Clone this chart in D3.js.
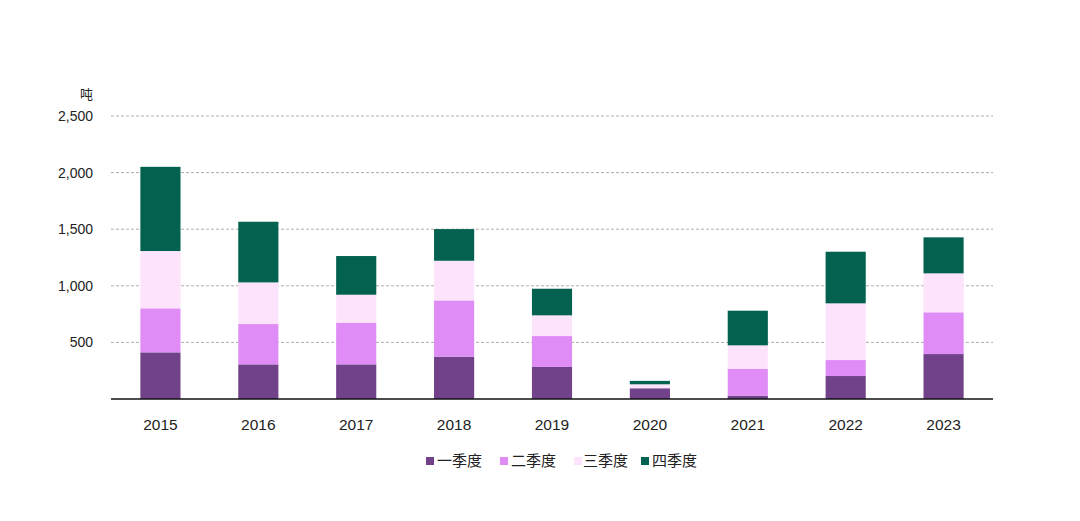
<!DOCTYPE html>
<html><head><meta charset="utf-8">
<script src="https://cdn.jsdelivr.net/npm/d3@7"></script>
<style>
body{margin:0;background:#fff;}
text{font-family:"Liberation Sans",Arial,"Noto Sans CJK SC",sans-serif;}
</style></head>
<body><svg id="c" width="1080" height="521"></svg>
<script>
const years = ["2015","2016","2017","2018","2019","2020","2021","2022","2023"];
const seriesNames = ["一季度","二季度","三季度","四季度"];
const q1 = [412,306,306,374,283,95,29,203,397];
const q2 = [389,356,368,497,273,0,239,141,369];
const q3 = [506,368,247,350,183,35,206,501,344];
const q4 = [744,536,342,280,235,30,306,456,318];
const yTicks = [500,1000,1500,2000,2500];
const unitLabel = "吨";
const colors = ["#71428a","#df8cf7","#fde4fc","#03624f"];

(function(){
const svg = d3.select("#c");
const mLeft = 111, mRight = 993, mTop = 116, mBottom = 399;
const x = d3.scaleBand().domain(years).range([mLeft,mRight]).paddingInner(0.59).paddingOuter(0.3);
const y = d3.scaleLinear().domain([0,2500]).range([mBottom,mTop]);

const rows = years.map((yr,i)=>({year:yr,"一季度":q1[i],"二季度":q2[i],"三季度":q3[i],"四季度":q4[i]}));
const stacked = d3.stack().keys(seriesNames)(rows);

svg.append("g").selectAll("line").data(yTicks).join("line")
  .attr("x1",mLeft).attr("x2",mRight)
  .attr("y1",d=>y(d)).attr("y2",d=>y(d))
  .attr("stroke","#adadad").attr("stroke-width",1).attr("stroke-dasharray","3,2");

svg.append("g").selectAll("text").data(yTicks).join("text")
  .attr("x",93).attr("y",d=>y(d)).attr("dy","0.35em")
  .attr("text-anchor","end").attr("font-size",14).attr("fill","#222")
  .text(d=>d3.format(",")(d));
svg.append("text").attr("x",93).attr("y",99).attr("text-anchor","end")
  .attr("font-size",13).attr("fill","#222").text(unitLabel);

svg.append("g").selectAll("g").data(stacked).join("g")
  .attr("fill",(d,i)=>colors[i])
  .selectAll("rect").data(d=>d).join("rect")
  .attr("x",d=>x(d.data.year)).attr("width",x.bandwidth())
  .attr("y",d=>y(d[1])).attr("height",d=>Math.max(0,y(d[0])-y(d[1])));

svg.append("line").attr("x1",mLeft).attr("x2",mRight).attr("y1",mBottom).attr("y2",mBottom)
  .attr("stroke","#111").attr("stroke-width",1.5);

svg.append("g").selectAll("text").data(years).join("text")
  .attr("x",d=>x(d)+x.bandwidth()/2).attr("y",425).attr("dy","0.35em")
  .attr("text-anchor","middle").attr("font-size",15.5).attr("fill","#222").text(d=>d);

const legX = [426,500,574,641];
const lg = svg.append("g").selectAll("g").data(seriesNames).join("g")
  .attr("transform",(d,i)=>`translate(${legX[i]},461)`);
lg.append("rect").attr("x",0).attr("y",-4).attr("width",8).attr("height",8).attr("fill",(d,i)=>colors[i]);
lg.append("text").attr("x",(d,i)=>i===2?9:11).attr("y",0).attr("dy","0.35em").attr("font-size",15).attr("fill","#222").text(d=>d);
})();
</script></body></html>
